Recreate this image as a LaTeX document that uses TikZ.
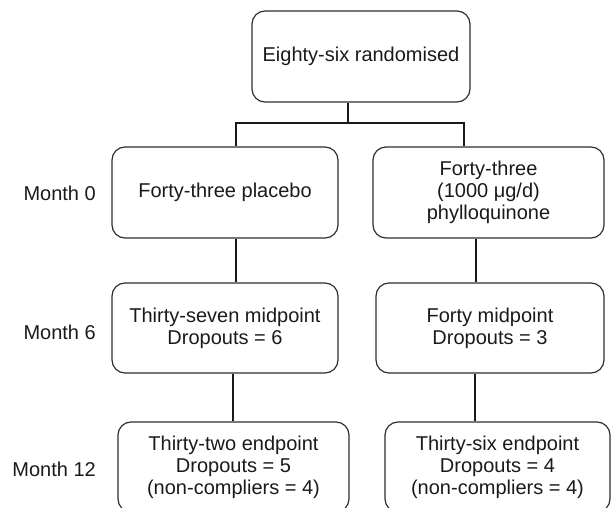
\documentclass[tikz,border=0pt]{standalone}
\usepackage{fontspec}
\setmainfont{Liberation Sans}
\definecolor{boxline}{HTML}{2E2E2E}
\definecolor{txt}{HTML}{1A1A1A}
\begin{document}
\begin{tikzpicture}[x=1pt,y=-1pt,
  box/.style={draw=boxline, line width=1.2pt, rounded corners=13pt, inner sep=0pt,
    align=center, text=txt, font=\fontsize{20}{22}\selectfont},
  lbl/.style={anchor=east, inner sep=0pt, text=txt, font=\fontsize{20}{22}\selectfont},
  conn/.style={draw=black!90, line width=2.2pt}]
\useasboundingbox (0,0) rectangle (611,508);
\node[box, minimum width=218, minimum height=91] (top) at (361,56.5) {Eighty-six randomised};
\node[box, minimum width=226, minimum height=91] (m0l) at (225,192.5) {Forty-three placebo};
\node[box, minimum width=231, minimum height=91] (m0r) at (488.5,192.5) {Forty-three\\(1000 μg/d)\\phylloquinone};
\node[box, minimum width=226, minimum height=90] (m6l) at (225,328) {Thirty-seven midpoint\\Dropouts = 6};
\node[box, minimum width=228, minimum height=90] (m6r) at (490,328) {Forty midpoint\\Dropouts = 3};
\node[box, minimum width=231, minimum height=90] (m12l) at (233.5,467) {Thirty-two endpoint\\Dropouts = 5\\(non-compliers = 4)};
\node[box, minimum width=225, minimum height=90] (m12r) at (497.5,467) {Thirty-six endpoint\\Dropouts = 4\\(non-compliers = 4)};
\node[lbl] (l0) at (96,193) {Month 0};
\node[lbl] (l6) at (96,332) {Month 6};
\node[lbl] (l12) at (96,469) {Month 12};
\coordinate (j) at (348,123);
\coordinate (jl) at (236,123);
\coordinate (jr) at (464,123);
\draw[conn] (j |- top.south) -- (j);
\draw[conn, line cap=rect] (jl) -- (jr);
\draw[conn] (jl) -- (jl |- m0l.north);
\draw[conn] (jr) -- (jr |- m0r.north);
\coordinate (sl1) at (236,260);
\coordinate (sr1) at (476,260);
\draw[conn] (sl1 |- m0l.south) -- (sl1 |- m6l.north);
\draw[conn] (sr1 |- m0r.south) -- (sr1 |- m6r.north);
\coordinate (sl2) at (233,400);
\coordinate (sr2) at (475,400);
\draw[conn] (sl2 |- m6l.south) -- (sl2 |- m12l.north);
\draw[conn] (sr2 |- m6r.south) -- (sr2 |- m12r.north);
\end{tikzpicture}
\end{document}
